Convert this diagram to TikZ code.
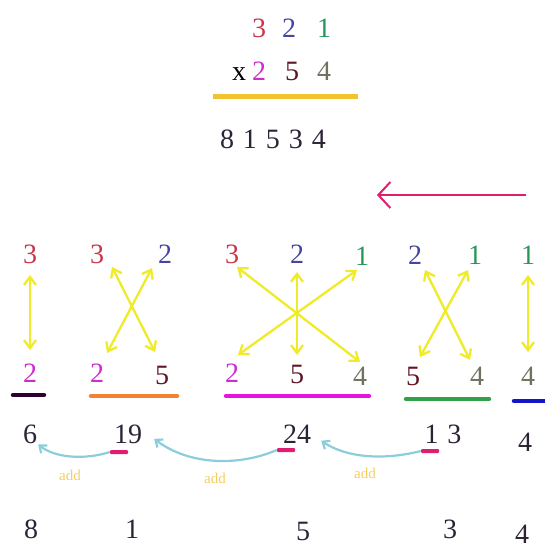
\documentclass[tikz,border=0pt]{standalone}
\usepackage{fontspec}
\setmainfont{Liberation Serif}
\usetikzlibrary{arrows.meta,calc}
\definecolor{cRed}{RGB}{200,55,75}
\definecolor{cBlue}{RGB}{70,70,160}
\definecolor{cGreen}{RGB}{40,150,90}
\definecolor{cMag}{RGB}{205,45,205}
\definecolor{cMaroon}{RGB}{95,20,35}
\definecolor{cOlive}{RGB}{110,115,95}
\definecolor{cDark}{RGB}{45,35,55}
\definecolor{cYel}{RGB}{240,235,40}
\definecolor{cGold}{RGB}{242,195,48}
\definecolor{cPink}{RGB}{225,30,110}
\definecolor{cCyan}{RGB}{140,205,220}
\definecolor{cAdd}{RGB}{245,205,95}
\definecolor{uBlack}{RGB}{45,0,45}
\definecolor{uOrange}{RGB}{240,130,50}
\definecolor{uMag}{RGB}{230,20,220}
\definecolor{uGreen}{RGB}{50,160,70}
\definecolor{uBlue}{RGB}{20,20,200}
\newcommand\dfont{\fontsize{28}{28}\selectfont}
\newcommand\afont{\fontsize{15}{15}\selectfont}
\begin{document}
\begin{tikzpicture}[x=1pt,y=-1pt,
  dg/.style={font=\dfont,inner sep=0pt,anchor=base},
  ya/.style={draw=cYel,line width=2.3pt,{Straight Barb[length=8pt,width=12pt]}-{Straight Barb[length=8pt,width=12pt]}},
  ul/.style={line width=4.5pt,line cap=round},
  cdash/.style={fill=cPink,inner sep=0pt,minimum width=18pt,minimum height=4pt,rounded corners=1pt},
  ca/.style={draw=cCyan,line width=2.2pt,-{Straight Barb[length=6pt,width=10pt]}},
  addl/.style={font=\afont,text=cAdd,inner sep=0pt},
  pa/.style={draw=cPink,line width=2pt,-{Straight Barb[length=12pt,width=26pt]}}]
\useasboundingbox (0,0) rectangle (545,548);
% ---- top multiplication ----
\node[dg,text=cRed]   (m3) at (259,38) {3};
\node[dg,text=cBlue]  (m2) at (289,38) {2};
\node[dg,text=cGreen] (m1) at (324,38) {1};
\node[dg,text=black]  (mx) at (239,81) {x};
\node[dg,text=cMag]   (n2) at (259,81) {2};
\node[dg,text=cMaroon](n5) at (292,81) {5};
\node[dg,text=cOlive] (n4) at (324,81) {4};
\draw[cGold,line width=5pt] (213,97) -- (358,97);
\node[dg,text=cDark] (prod) at (273,149) {8\kern9pt 1\kern9pt 5\kern9pt 3\kern9pt 4};
% ---- direction arrow ----
\coordinate (pS) at (526,195);
\coordinate (pE) at (377,195);
\draw[pa] (pS) -- (pE);
% ---- top digit row ----
\node[dg,text=cRed]   (t1)  at (30,263) {3};
\node[dg,text=cRed]   (t2a) at (97,263) {3};
\node[dg,text=cBlue]  (t2b) at (165,263) {2};
\node[dg,text=cRed]   (t3a) at (232,263) {3};
\node[dg,text=cBlue]  (t3b) at (297,263) {2};
\node[dg,text=cGreen] (t3c) at (362,265) {1};
\node[dg,text=cBlue]  (t4a) at (415,264) {2};
\node[dg,text=cGreen] (t4b) at (475,264) {1};
\node[dg,text=cGreen] (t5)  at (528,264) {1};
% ---- bottom digit row ----
\node[dg,text=cMag]    (b1)  at (30,382) {2};
\node[dg,text=cMag]    (b2a) at (97,382) {2};
\node[dg,text=cMaroon] (b2b) at (162,384) {5};
\node[dg,text=cMag]    (b3a) at (232,382) {2};
\node[dg,text=cMaroon] (b3b) at (297,383) {5};
\node[dg,text=cOlive]  (b3c) at (360,385) {4};
\node[dg,text=cMaroon] (b4a) at (413,385) {5};
\node[dg,text=cOlive]  (b4b) at (477,385) {4};
\node[dg,text=cOlive]  (b5)  at (528,385) {4};
% ---- yellow cross arrows ----
\draw[ya] ($(t1.base)+(0,12)$) -- ($(b1.base)+(0,-32)$);
\draw[ya] ($(t2a.base)+(15,4)$) -- ($(b2b.base)+(-7,-32)$);
\draw[ya] ($(t2b.base)+(-13,5)$) -- ($(b2a.base)+(10,-29)$);
\draw[ya] ($(t3a.base)+(5,4)$) -- ($(b3c.base)+(0,-23)$);
\draw[ya] ($(t3c.base)+(-5,5)$) -- ($(b3a.base)+(6,-27)$);
\draw[ya] ($(t3b.base)+(0,9)$) -- ($(b3b.base)+(0,-28)$);
\draw[ya] ($(t4a.base)+(10,6)$) -- ($(b4b.base)+(-7,-25)$);
\draw[ya] ($(t4b.base)+(-7,6)$) -- ($(b4a.base)+(7,-28)$);
\draw[ya] ($(t5.base)+(0,11)$) -- ($(b5.base)+(0,-33)$);
% ---- underlines ----
\draw[ul,uBlack]  (13,395) -- (44,395);
\draw[ul,uOrange] (91,396) -- (177,396);
\draw[ul,uMag]    (226,396) -- (369,396);
\draw[ul,uGreen]  (406,399) -- (489,399);
\draw[ul,uBlue]   (514,401) -- (550,401);
% ---- partial results ----
\node[dg,text=cDark] (r6)  at (30,443) {6};
\node[dg,text=cDark] (r19) at (128,443) {19};
\node[dg,text=cDark] (r24) at (297,443) {24};
\node[dg,text=cDark] (r13) at (443,443) {1\kern9pt 3};
\node[dg,text=cDark] (r4)  at (525,451) {4};
\node[cdash] (c1) at (119,452) {};
\node[cdash] (c2) at (286,450) {};
\node[cdash] (c3) at (430,451) {};
\draw[ca] (c1.west) .. controls (85,460) and (55,458) .. ([xshift=1pt,yshift=-1pt]r6.south east);
\draw[ca] (c2.west) .. controls (240,466) and (190,466) .. ([xshift=12pt,yshift=-5pt]r19.east);
\draw[ca] (c3.west) .. controls (390,459) and (350,460) .. ([xshift=10pt,yshift=-7pt]r24.east);
\node[addl] (a1) at (70,475) {add};
\node[addl] (a2) at (215,478) {add};
\node[addl] (a3) at (365,473) {add};
% ---- final digits ----
\node[dg,text=cDark] (f8) at (31,538) {8};
\node[dg,text=cDark] (f1) at (132,538) {1};
\node[dg,text=cDark] (f5) at (303,540) {5};
\node[dg,text=cDark] (f3) at (450,538) {3};
\node[dg,text=cDark] (f4) at (522,543) {4};
\end{tikzpicture}
\end{document}
